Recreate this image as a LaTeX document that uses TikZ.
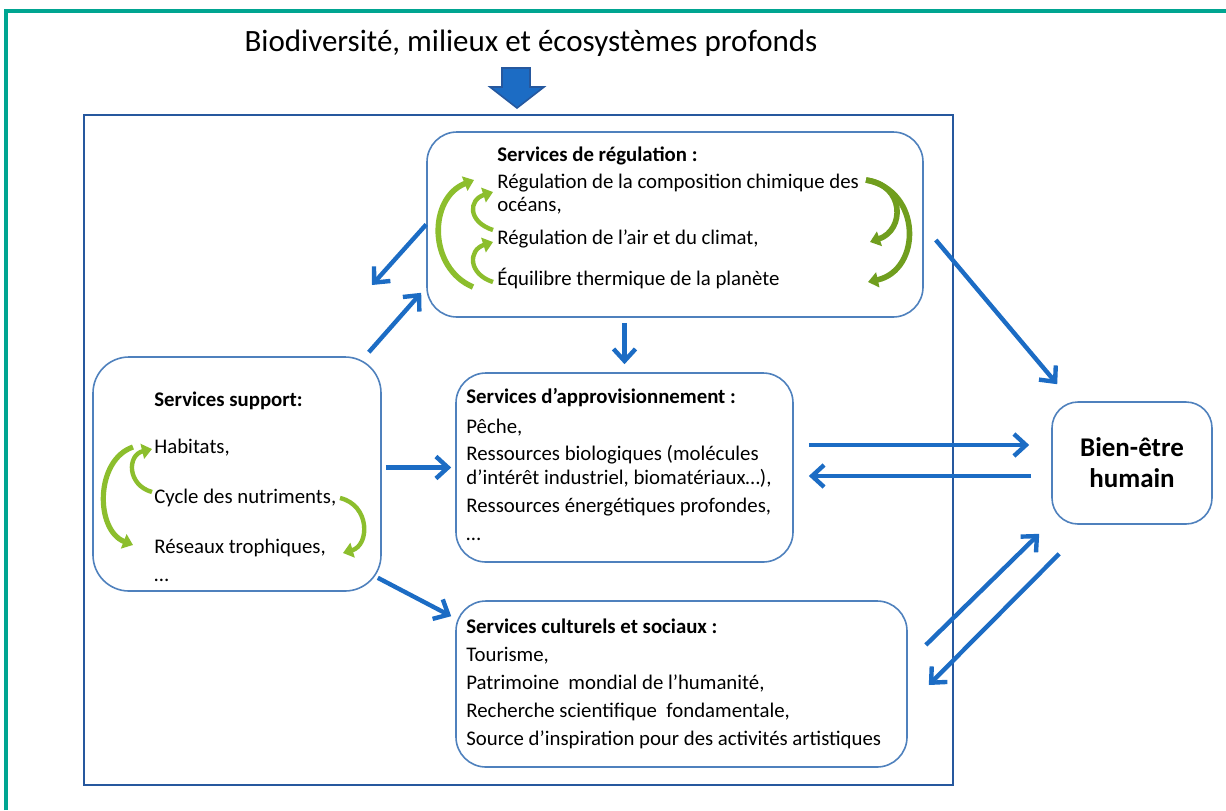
\documentclass[tikz,border=0pt]{standalone}
\usepackage{fontspec}
\setmainfont{Carlito}
\usetikzlibrary{arrows.meta}
\definecolor{boxc}{RGB}{79,129,189}
\definecolor{arrc}{RGB}{28,108,196}
\definecolor{framec}{RGB}{38,88,158}
\definecolor{tealc}{RGB}{0,165,145}
\definecolor{gmid}{RGB}{140,190,45}
\definecolor{gdark}{RGB}{112,158,30}

\begin{document}
\begin{tikzpicture}[x=0.5pt,y=-0.5pt,
  box/.style={draw=boxc,line width=0.8pt,rounded corners=15pt,fill=white},
  txt/.style={anchor=north west,align=left,inner sep=0pt,font=\fontsize{10.4}{12}\selectfont},
  barrow/.style={arrc,line width=2.2pt,-{Straight Barb[length=6pt,width=11pt]}},
  garrow/.style={gmid,line width=2.2pt,-{Triangle[length=5pt,width=7.5pt]}}]
  \useasboundingbox (0,0) rectangle (1226,810);
  % frames
  \draw[tealc,line width=2pt] (6,810) -- (6,11) -- (1226,11);
  \draw[framec,line width=1pt] (84,115) rectangle (953,785);
  \node[font=\fontsize{15.5}{17}\selectfont] (title) at (531,43) {Biodiversité, milieux et écosystèmes profonds};
  \fill[arrc,draw=framec,line width=0.8pt] (502,68) -- (530,68) -- (530,87) -- (544,87) -- (517,108) -- (490,87) -- (502,87) -- cycle;

  % boxes
  \node[box,minimum width=248pt,minimum height=92.5pt] (reg) at (675,224.5) {};
  \node[box,minimum width=168.5pt,minimum height=94.5pt] (appro) at (624.5,467.5) {};
  \node[box,minimum width=225.5pt,minimum height=83pt] (cult) at (681.5,684) {};
  \node[box,minimum width=144pt,minimum height=117pt,rounded corners=18pt] (supp) at (237,474) {};
  \node[box,minimum width=80pt,minimum height=61pt,rounded corners=13pt,align=center,
    font=\bfseries\fontsize{13.5}{15.5}\selectfont] (bien) at (1132,463) {Bien-être\\humain};

  % texts
  \node[txt] (regtxt) at (497,146) {\textbf{Services de régulation :}\\[1.5pt]
    Régulation de la composition chimique des\\[-0.5pt]
    océans,\\[4.5pt]
    Régulation de l’air et du climat,\\[8.5pt]
    Équilibre thermique de la planète};
  \node[txt] (approtxt) at (466,388) {\textbf{Services d’approvisionnement :}\\[3pt]
    Pêche,\\[1.5pt]
    Ressources biologiques (molécules\\
    d’intérêt industriel, biomatériaux…),\\[2pt]
    Ressources énergétiques profondes,\\[2pt]
    …};
  \node[txt] (culttxt) at (466,618) {\textbf{Services culturels et sociaux :}\\[2pt]
    Tourisme,\\[2pt]
    Patrimoine~ mondial de l’humanité,\\[2pt]
    Recherche scientifique~ fondamentale,\\[2pt]
    Source d’inspiration pour des activités artistiques};
  \node[txt] (supptxt) at (154,391) {\textbf{Services support:}\\[11.5pt]
    Habitats,\\[13pt]
    Cycle des nutriments,\\[13pt]
    Réseaux trophiques,\\[2pt]
    …};

  % green cycles
  \draw[garrow,line width=2.8pt] (473,287) .. controls (428,268) and (428,198) .. (474,180);
  \draw[garrow] (493,230) .. controls (468,222) and (468,200) .. (493,192);
  \draw[garrow] (493,282) .. controls (468,274) and (468,250) .. (493,242);
  \draw[garrow,gdark,line width=2.8pt] (866,180) .. controls (905,185) and (905,230) .. (870,242);
  \draw[garrow,gdark,line width=2.8pt] (866,180) .. controls (922,190) and (922,270) .. (868,282);
  \draw[garrow,line width=2.6pt] (133,447) .. controls (95,460) and (95,530) .. (133,545);
  \draw[garrow] (152,492) .. controls (127,485) and (127,455) .. (152,449);
  \draw[garrow] (340,498) .. controls (370,505) and (370,545) .. (343,553);

  % links
  \coordinate (regout) at (372,285);
  \draw[barrow] (reg.west) -- (regout);
  \draw[barrow] ([shift={(-13,-4)}]supp.north east) -- ([shift={(-5,-25)}]reg.south west);
  \draw[barrow,shorten <=2.5pt,shorten >=4pt] (appro.north |- reg.south) -- (appro.north);
  \draw[barrow,shorten <=2pt,shorten >=2pt] (supp.east |- appro.west) -- (appro.west);
  \draw[barrow] ([shift={(-4,-14)}]supp.south east) -- ([shift={(-4,16)}]cult.north west);
  \draw[barrow] ([shift={(15,-22.5)}]appro.east) -- ([shift={(-22,-18)}]bien.west);
  \draw[barrow] ([shift={(-20,13)}]bien.west) -- ([shift={(15,8.5)}]appro.east);
  \draw[barrow] ([shift={(12,15.5)}]reg.east) -- ([shift={(6,-17)}]bien.north west);
  \draw[barrow] ([shift={(18,-39)}]cult.east) -- ([shift={(-12,9)}]bien.south west);
  \draw[barrow] ([shift={(8,29)}]bien.south west) -- ([shift={(21,1)}]cult.east);
\end{tikzpicture}
\end{document}
